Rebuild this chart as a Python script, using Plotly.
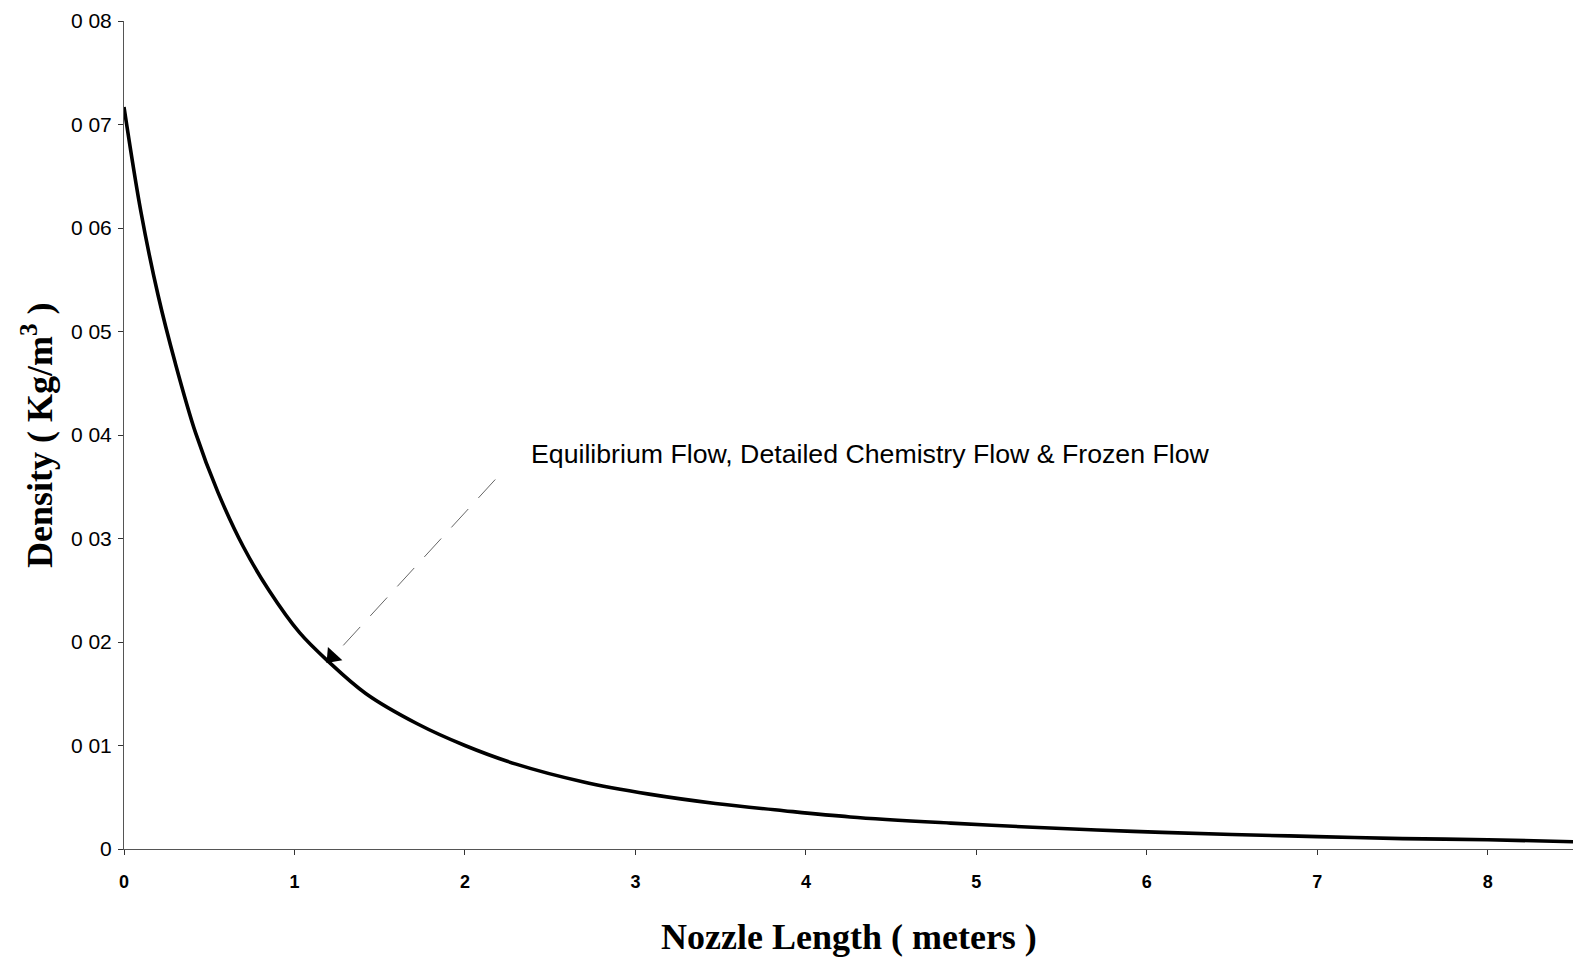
import math
import plotly.graph_objects as go

# Data
nozzle_length = [0, 0.1, 0.2, 0.3, 0.42, 0.55, 0.7, 0.85, 1.03, 1.2, 1.42, 1.72, 2.0,
                 2.3, 2.69, 3.08, 3.47, 3.87, 4.26, 4.85, 5.33, 5.92, 6.5, 7.0, 7.5, 8.0, 8.5]
density = [0.0717, 0.0615, 0.0535, 0.0470, 0.0402, 0.0345, 0.0292, 0.0250, 0.0209, 0.0181,
           0.0150, 0.0121, 0.0100, 0.0082, 0.0065, 0.0053, 0.0044, 0.0037, 0.0031, 0.0025,
           0.0021, 0.0017, 0.0014, 0.0012, 0.0010, 0.0009, 0.0007]

x_ticks = [0, 1, 2, 3, 4, 5, 6, 7, 8]
x_tick_labels = ["0", "1", "2", "3", "4", "5", "6", "7", "8"]
y_ticks = [0, 0.01, 0.02, 0.03, 0.04, 0.05, 0.06, 0.07, 0.08]
y_tick_labels = ["0", "0 01", "0 02", "0 03", "0 04", "0 05", "0 06", "0 07", "0 08"]

annotation_text = "Equilibrium Flow, Detailed Chemistry Flow & Frozen Flow"
arrow_tail = (2.178, 0.0357)
arrow_head = (1.19, 0.0180)
label_pos = (2.374, 0.0382)

# pixel scale of the plot area (used only to orient the arrow head)
PX_PER_X = 1449 / 8.5
PX_PER_Y = 828 / 0.08

fig = go.Figure()
fig.add_trace(go.Scatter(
    x=nozzle_length, y=density, mode="lines",
    line=dict(color="black", width=3.6, shape="spline", smoothing=1.0),
    showlegend=False, hoverinfo="skip",
))

# dashed leader line
fig.add_shape(type="line", xref="x", yref="y",
              x0=arrow_tail[0], y0=arrow_tail[1], x1=arrow_head[0] + 0.07, y1=arrow_head[1] + 0.0012,
              line=dict(color="#666666", width=1, dash="25px,15px"))

# arrow head (filled triangle pointing along leader line)
dxp = (arrow_head[0] - arrow_tail[0]) * PX_PER_X
dyp = -(arrow_head[1] - arrow_tail[1]) * PX_PER_Y  # screen y grows downward
L = math.hypot(dxp, dyp)
ux, uy = dxp / L, dyp / L
angle = math.degrees(math.atan2(ux, -uy))  # clockwise from "up"
back = 8
cx = arrow_head[0] - ux * back / PX_PER_X
cy = arrow_head[1] + uy * back / PX_PER_Y
fig.add_trace(go.Scatter(
    x=[cx], y=[cy], mode="markers",
    marker=dict(symbol="triangle-up", size=17, color="black", angle=angle,
                line=dict(width=0)),
    showlegend=False, hoverinfo="skip",
))

fig.add_annotation(x=label_pos[0], y=label_pos[1], xref="x", yref="y",
                   text=annotation_text, showarrow=False, xanchor="left", yanchor="middle",
                   font=dict(family="Liberation Sans", size=26.7, color="black"))

# axis titles
fig.add_annotation(x=0.5, y=-0.106, xref="paper", yref="paper",
                   text="<b>Nozzle Length ( meters )</b>", showarrow=False,
                   xanchor="center", yanchor="middle",
                   font=dict(family="Liberation Serif", size=36, color="black"))
fig.add_annotation(x=-0.06, y=0.5, xref="paper", yref="paper",
                   text="<b>Density ( Kg/m<sup>3</sup> )</b>", showarrow=False,
                   textangle=-90, xanchor="center", yanchor="middle",
                   font=dict(family="Liberation Serif", size=36, color="black"))

fig.update_layout(
    width=1573, height=960,
    margin=dict(l=124, r=0, t=21, b=111),
    paper_bgcolor="white", plot_bgcolor="white",
    xaxis=dict(range=[0, 8.5], tickvals=x_ticks, ticktext=x_tick_labels,
               showgrid=False, zeroline=False, showline=True, linecolor="#555555", linewidth=1,
               ticks="outside", ticklen=5, tickcolor="#333333", ticklabelstandoff=11,
               tickfont=dict(family="Liberation Sans", size=18, color="black", weight="bold")),
    yaxis=dict(range=[0, 0.08], tickvals=y_ticks, ticktext=y_tick_labels,
               showgrid=False, zeroline=False, showline=True, linecolor="#555555", linewidth=1,
               ticks="outside", ticklen=5, tickcolor="#333333", ticklabelstandoff=2,
               tickfont=dict(family="Liberation Sans", size=21, color="black")),
)

fig.write_html("out.html")
